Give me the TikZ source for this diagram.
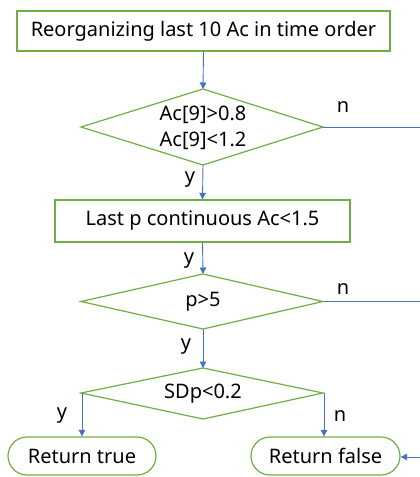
\documentclass[tikz,border=0pt]{standalone}
\usepackage{fontspec}
\setmainfont{Noto Sans}
\usetikzlibrary{shapes.geometric,arrows.meta}
\definecolor{gborder}{RGB}{112,173,71}
\definecolor{barrow}{RGB}{68,114,196}
\begin{document}
\begin{tikzpicture}[x=1pt,y=-1pt,
  box/.style={draw=gborder,line width=1.2pt,rectangle,inner sep=0pt,font=\fontsize{20}{22}\selectfont},
  diapath/.style={draw=gborder,line width=1.2pt},
  dia/.style={inner sep=0pt,font=\fontsize{20}{26}\selectfont,align=center},
  term/.style={draw=gborder,line width=1.2pt,rounded corners=19pt,inner sep=0pt,font=\fontsize{20}{22}\selectfont},
  conn/.style={draw=barrow,line width=0.9pt},
  arr/.style={conn,-{Triangle[length=6.5pt,width=6.5pt]}},
  lbl/.style={font=\fontsize{20}{22}\selectfont,inner sep=0pt}]
\useasboundingbox (0,0) rectangle (420,477);
% boxes
\node[box,minimum width=373pt,minimum height=40pt] (b1) at (203.5,31) {Reorganizing last 10 Ac in time order};
\draw[diapath] (81,127) -- (203,89) -- (323,127) -- (203,165) -- cycle;
\coordinate (d1n) at (203,89); \coordinate (d1s) at (203,165); \coordinate (d1e) at (323,127);
\node[dia] (d1) at (203,128) {Ac[9]>0.8\\Ac[9]<1.2};
\node[box,minimum width=295pt,minimum height=42pt] (b2) at (202.5,221) {Last p continuous Ac<1.5};
\draw[diapath] (81,301.5) -- (203,274) -- (323,301.5) -- (203,329) -- cycle;
\coordinate (d2n) at (203,274); \coordinate (d2s) at (203,329); \coordinate (d2e) at (323,301.5);
\node[dia] (d2) at (203,302) {p>5};
\draw[diapath] (81,393) -- (203,368) -- (323,393) -- (203,419) -- cycle;
\coordinate (d3n) at (203,368); \coordinate (d3w) at (82,393); \coordinate (d3e) at (324,393);
\node[dia] (d3) at (203,394) {SDp<0.2};
\node[term,minimum width=148pt,minimum height=38pt] (rt) at (82,456) {Return true};
\node[term,minimum width=149pt,minimum height=38pt] (rf) at (325.5,456) {Return false};
% right edge coordinates
\coordinate (r1) at (420,127);
\coordinate (r2) at (420,301.5);
\coordinate (r3) at (420,457);
% connectors
\draw[arr] (b1.south) -- (d1n);
\draw[arr] (d1s) -- (b2.north);
\draw[arr] (b2.south) -- (d2n);
\draw[arr] (d2s) -- (d3n);
\draw[arr] (d3w) -- (rt.north -| d3w);
\draw[arr] (d3e) -- (rf.north -| d3e);
\draw[conn] (d1e) -- (r1);
\draw[conn] (d2e) -- (r2);
\draw[arr] (r3) -- (rf.east |- r3);
% labels
\node[lbl] (n1) at (343,107) {n};
\node[lbl] (y1) at (190,180) {y};
\node[lbl] (y2) at (189,261) {y};
\node[lbl] (n2) at (343,289) {n};
\node[lbl] (y3) at (186,347) {y};
\node[lbl] (y4) at (62,416) {y};
\node[lbl] (n3) at (340,416) {n};
\end{tikzpicture}
\end{document}
